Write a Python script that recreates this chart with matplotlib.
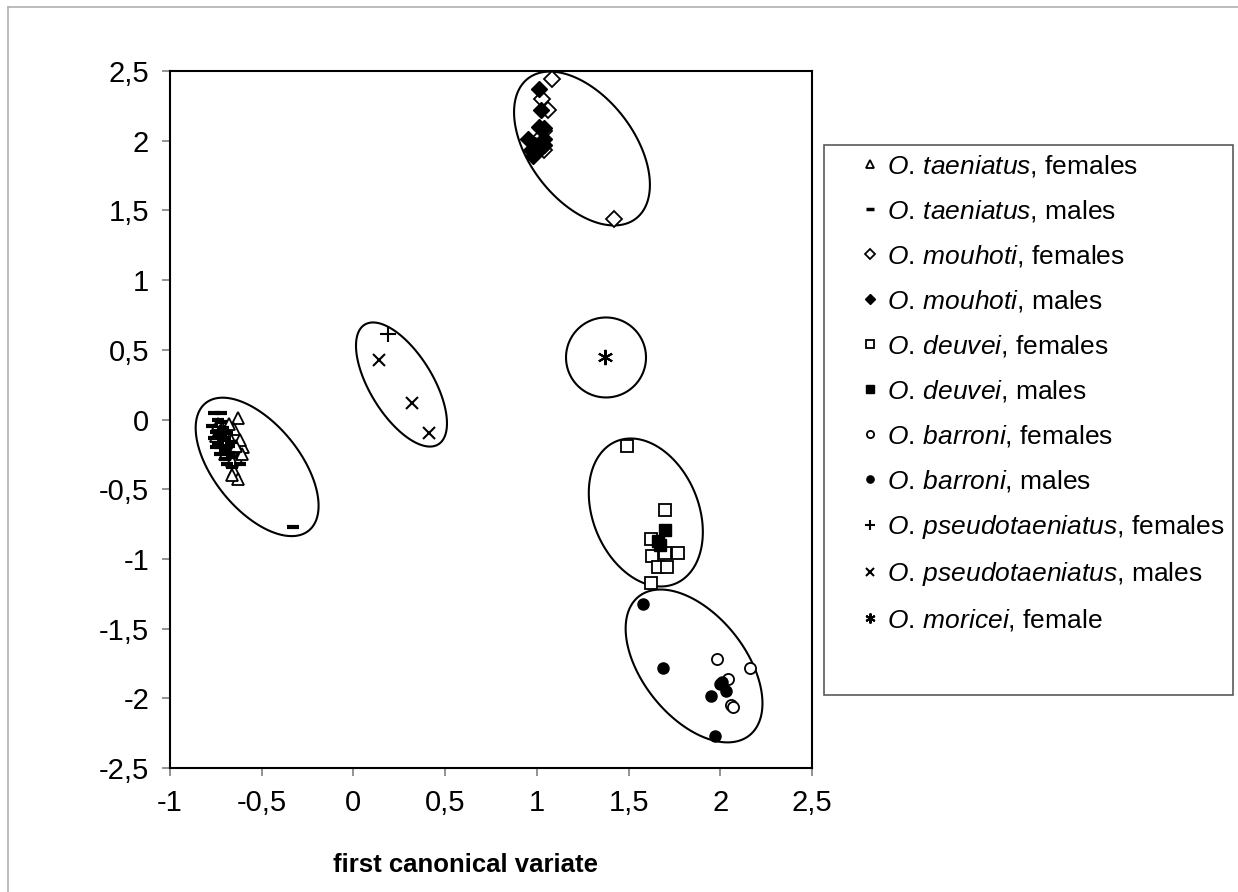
import numpy as np
import matplotlib
matplotlib.use("Agg")
import matplotlib.pyplot as plt
from matplotlib.lines import Line2D
from matplotlib.patches import Rectangle, Polygon
from matplotlib.ticker import FuncFormatter

plt.rcParams["font.family"] = ["Liberation Sans", "DejaVu Sans"]
plt.rcParams["mathtext.fontset"] = "custom"
plt.rcParams["mathtext.it"] = "Liberation Sans:italic"
plt.rcParams["mathtext.rm"] = "Liberation Sans"

# canonical variate scores
taen_f_x = [-0.63, -0.60, -0.65, -0.63, -0.66, -0.64, -0.62, -0.67, -0.70, -0.72, -0.74,
            -0.68, -0.66, -0.69, -0.71, -0.73, -0.65, -0.61, -0.68, -0.75, -0.70, -0.64]
taen_f_y = [0.01, -0.20, -0.37, -0.43, -0.40, -0.27, -0.15, -0.22, -0.10, -0.05, -0.03,
            -0.12, -0.30, -0.18, -0.14, -0.08, -0.07, -0.25, -0.03, -0.12, -0.25, -0.19]
taen_m_x = [-0.76, -0.72, -0.74, -0.77, -0.75, -0.73, -0.71, -0.74, -0.72, -0.70, -0.68,
            -0.66, -0.62, -0.70, -0.69, -0.71, -0.69, -0.67, -0.66, -0.33, -0.75, -0.73,
            -0.76, -0.72, -0.68, -0.70]
taen_m_y = [0.05, 0.05, 0.00, -0.05, -0.09, -0.12, -0.15, -0.17, -0.20, -0.22, -0.24,
            -0.27, -0.32, -0.28, -0.32, -0.06, -0.10, -0.16, -0.34, -0.77, -0.20, -0.25,
            -0.13, -0.02, -0.19, -0.13]
mouh_f_x = [1.08, 1.42, 1.03, 1.06, 1.04, 1.02, 1.04, 1.01]
mouh_f_y = [2.44, 1.44, 2.30, 2.22, 2.07, 2.00, 1.93, 2.01]
mouh_m_x = [1.01, 1.02, 1.01, 1.04, 0.95, 0.99, 0.97, 0.98, 1.04, 1.04, 1.02]
mouh_m_y = [2.37, 2.22, 2.10, 2.09, 2.01, 1.97, 1.93, 1.89, 1.97, 2.01, 1.95]
deuv_f_x = [1.49, 1.70, 1.62, 1.63, 1.70, 1.77, 1.66, 1.71, 1.62]
deuv_f_y = [-0.19, -0.65, -0.86, -0.98, -0.96, -0.96, -1.06, -1.06, -1.17]
deuv_m_x = [1.70, 1.66, 1.67]
deuv_m_y = [-0.79, -0.87, -0.90]
barr_f_x = [1.98, 2.16, 2.04, 2.06, 2.07]
barr_f_y = [-1.72, -1.78, -1.86, -2.05, -2.06]
barr_m_x = [1.58, 1.69, 2.01, 2.03, 1.95, 1.97, 2.00]
barr_m_y = [-1.32, -1.78, -1.88, -1.95, -1.98, -2.27, -1.90]
pseu_f_x = [0.19]
pseu_f_y = [0.61]
pseu_m_x = [0.14, 0.32, 0.41]
pseu_m_y = [0.43, 0.12, -0.10]
mori_x = [1.37]
mori_y = [0.45]

# group ellipses: centre, semi-axes (in x-axis units), tilt on screen (deg)
ell_cx = [-0.525, 1.246, 0.262, 1.377, 1.594, 1.857]
ell_cy = [-0.34, 1.944, 0.251, 0.445, -0.667, -1.768]
ell_a = [0.447, 0.482, 0.383, 0.218, 0.420, 0.484]
ell_b = [0.234, 0.284, 0.171, 0.218, 0.288, 0.280]
ell_ang = [-51, -52.4, -58.4, 0, -67.5, -51.4]

labels = [
    r"$\mathit{O.\,taeniatus}$, females",
    r"$\mathit{O.\,taeniatus}$, males",
    r"$\mathit{O.\,mouhoti}$, females",
    r"$\mathit{O.\,mouhoti}$, males",
    r"$\mathit{O.\,deuvei}$, females",
    r"$\mathit{O.\,deuvei}$, males",
    r"$\mathit{O.\,barroni}$, females",
    r"$\mathit{O.\,barroni}$, males",
    r"$\mathit{O.\,pseudotaeniatus}$, females",
    r"$\mathit{O.\,pseudotaeniatus}$, males",
    r"$\mathit{O.\,moricei}$, female",
]
series = [(taen_f_x, taen_f_y), (taen_m_x, taen_m_y), (mouh_f_x, mouh_f_y),
          (mouh_m_x, mouh_m_y), (deuv_f_x, deuv_f_y), (deuv_m_x, deuv_m_y),
          (barr_f_x, barr_f_y), (barr_m_x, barr_m_y), (pseu_f_x, pseu_f_y),
          (pseu_m_x, pseu_m_y), (mori_x, mori_y)]
styles = [
    dict(marker="^", ms=9, mfc="white", mec="black", mew=1.3),
    dict(marker="_", ms=9, mec="black", mew=3.0),
    dict(marker="D", ms=8.5, mfc="white", mec="black", mew=1.3),
    dict(marker="D", ms=8.5, mfc="black", mec="black", mew=1.0),
    dict(marker="s", ms=8, mfc="white", mec="black", mew=1.3),
    dict(marker="s", ms=8, mfc="black", mec="black", mew=1.0),
    dict(marker="o", ms=8, mfc="white", mec="black", mew=1.3),
    dict(marker="o", ms=8, mfc="black", mec="black", mew=1.0),
    dict(marker="+", ms=11, mec="black", mew=1.5),
    dict(marker="x", ms=9, mec="black", mew=1.5),
    dict(marker=(6, 2, 0), ms=11, mec="black", mew=1.5),
]

W, H = 1238, 892
fig = plt.figure(figsize=(W / 100, H / 100), dpi=100)
ax = fig.add_axes([170 / W, 1 - 768 / H, 642 / W, 697 / H])
ax.set_xlim(-1, 2.5)
ax.set_ylim(-2.5, 2.5)

# ellipses are drawn in data coords, corrected for the axes' screen aspect
ratio = (642 / 3.5) / (697 / 5.0)
t = np.linspace(0, 2 * np.pi, 300, endpoint=False)
for cx, cy, a, b, ang in zip(ell_cx, ell_cy, ell_a, ell_b, ell_ang):
    th = np.deg2rad(ang)
    dx = a * np.cos(t) * np.cos(th) - b * np.sin(t) * np.sin(th)
    dy = a * np.cos(t) * np.sin(th) + b * np.sin(t) * np.cos(th)
    ax.add_patch(Polygon(np.column_stack([cx + dx, cy + dy * ratio]), closed=True,
                         fill=False, edgecolor="black", lw=1.5, clip_on=False))

handles = []
for (xs, ys), st in zip(series, styles):
    ax.plot(xs, ys, ls="none", **st)
    hs = dict(st)
    hs["ms"] = st["ms"] * 0.65
    if st["marker"] == "_":
        hs["mew"] = 2.5
    handles.append(Line2D([], [], ls="none", **hs))

ax.set_xticks(np.arange(-1, 2.51, 0.5))
ax.set_yticks(np.arange(-2.5, 2.51, 0.5))
fmt = FuncFormatter(lambda v, p: f"{v:g}".replace(".", ","))
ax.xaxis.set_major_formatter(fmt)
ax.yaxis.set_major_formatter(fmt)
ax.tick_params(direction="out", length=6, width=1.2, color="#808080",
               labelsize=21, pad=9)
for s in ax.spines.values():
    s.set_linewidth(1.5)
    s.set_color("black")

ax.set_xlabel("first canonical variate", fontsize=18.5, fontweight="bold")
ax.xaxis.set_label_coords((466 - 170) / 642, -0.122)

fig.add_artist(Rectangle((824 / W, 1 - 695 / H), (1233 - 824) / W, (695 - 145) / H,
                         transform=fig.transFigure, fill=False,
                         edgecolor="#5a5a5a", lw=1.2))
fig.legend(handles, labels, loc="upper left", bbox_to_anchor=(857 / W, 1 - 153 / H),
           frameon=False, fontsize=19, handlelength=1.0, handletextpad=0.15,
           labelspacing=0.72, borderpad=0, borderaxespad=0)

fig.add_artist(Line2D([8 / W, 1], [1 - 7 / H] * 2, color="#b0b0b0", lw=1.2))
fig.add_artist(Line2D([8 / W] * 2, [0, 1 - 7 / H], color="#b0b0b0", lw=1.2))

fig.savefig("out.png", dpi=100)
